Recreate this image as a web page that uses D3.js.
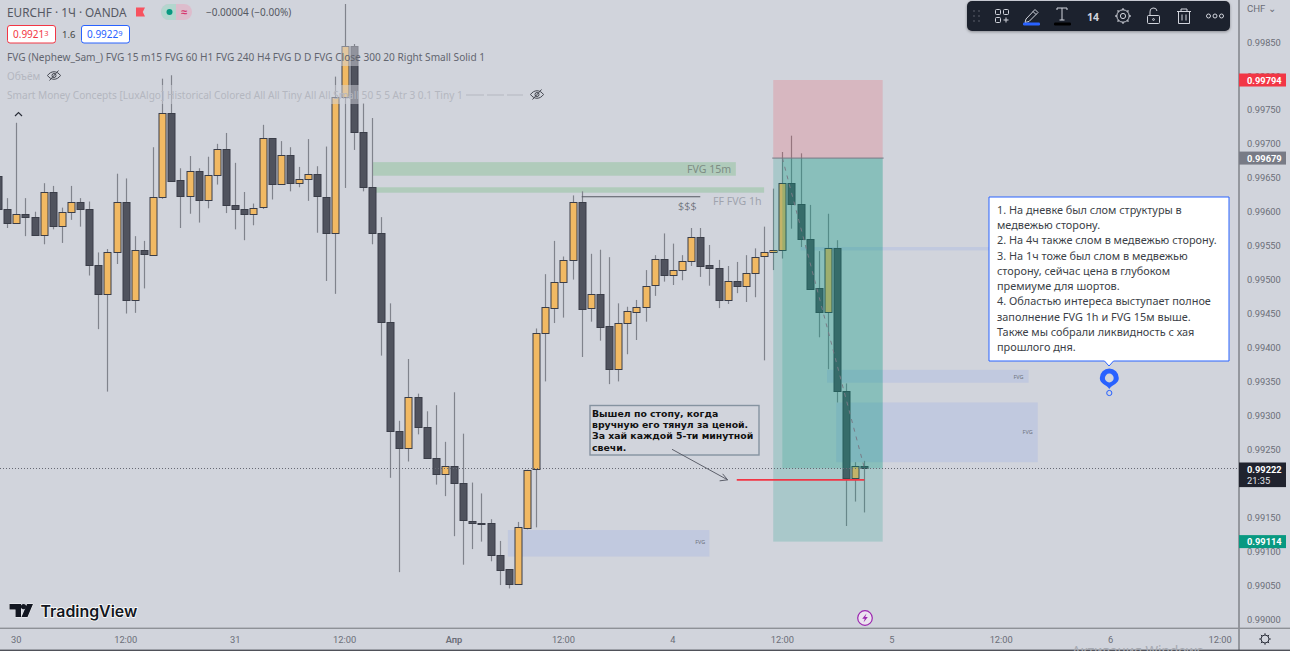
<!DOCTYPE html>
<html>
<head>
<meta charset="utf-8">
<script src="https://cdn.jsdelivr.net/npm/d3@7/dist/d3.min.js"></script>
<style>
  html, body { margin: 0; padding: 0; background: #D1D4DC; overflow: hidden; }
  svg { display: block; font-family: "Noto Sans", sans-serif; }
</style>
</head>
<body>
<svg id="chart" width="1290" height="651"></svg>
<script>
// EURCHF hourly candles, the first bar is two positions left of the "30" tick
const firstBar = -2;
const opens = [.99653,.99604,.99583,.99596,.99592,.99565,.99629,.99579,.99600,.99615,.99604,.99521,.99479,.99541,.99615,.99470,.99543,.99537,.99622,.99746,.99646,.99623,.99660,.99617,.99654,.99692,.99610,.99604,.99597,.99606,.99708,.99640,.99683,.99642,.99648,.99655,.99622,.99569,.99769,.99844,.99718,.99637,.99569,.99438,.99277,.99252,.99327,.99283,.99237,.99213,.99225,.99200,.99145,.99142,.99142,.99095,.99073,.99051,.99135,.99220,.99421,.99459,.99497,.99529,.99615,.99458,.99479,.99431,.99368,.99436,.99453,.99460,.99491,.99530,.99507,.99514,.99527,.99563,.99521,.99517,.99470,.99498,.99491,.99510,.99534,.99540,.99543,.99642,.99611,.99560,.99487,.99451,.99546,.99336,.99208,.99225];
const highs = [.99669,.99620,.99731,.99620,.99600,.99642,.99638,.99606,.99638,.99620,.99615,.99540,.99545,.99656,.99649,.99564,.99557,.99695,.99796,.99801,.99664,.99682,.99664,.99681,.99700,.99716,.99672,.99629,.99612,.99728,.99708,.99704,.99695,.99666,.99707,.99667,.99696,.99799,.99906,.99847,.99760,.99738,.99592,.99465,.99292,.99383,.99332,.99306,.99315,.99261,.99334,.99273,.99201,.99185,.99147,.99115,.99073,.99143,.99220,.99428,.99508,.99557,.99534,.99624,.99630,.99538,.99544,.99533,.99465,.99460,.99470,.99514,.99536,.99568,.99553,.99536,.99576,.99576,.99551,.99529,.99520,.99526,.99536,.99546,.99578,.99634,.99688,.99712,.99686,.99610,.99542,.99597,.99558,.99347,.99231,.99233];
const lows = [.99597,.99576,.99583,.99564,.99565,.99552,.99574,.99554,.99588,.99578,.99506,.99427,.99335,.99523,.99450,.99451,.99487,.99537,.99619,.99644,.99576,.99597,.99584,.99605,.99640,.99598,.99574,.99558,.99580,.99604,.99618,.99640,.99630,.99636,.99616,.99569,.99498,.99479,.99635,.99691,.99630,.99552,.99388,.99208,.99069,.99232,.99272,.99237,.99198,.99181,.99122,.99080,.99103,.99114,.99085,.99050,.99045,.99051,.99132,.99135,.99350,.99436,.99444,.99500,.99386,.99438,.99410,.99346,.99350,.99390,.99411,.99438,.99476,.99497,.99492,.99499,.99520,.99504,.99491,.99458,.99464,.99480,.99467,.99474,.99381,.99514,.99531,.99575,.99548,.99485,.99415,.99368,.99319,.99137,.99173,.99157];
const closes = [.99604,.99583,.99596,.99592,.99565,.99629,.99579,.99600,.99615,.99604,.99521,.99479,.99541,.99615,.99470,.99543,.99537,.99622,.99746,.99646,.99623,.99660,.99617,.99654,.99692,.99610,.99604,.99597,.99606,.99708,.99640,.99683,.99642,.99648,.99655,.99622,.99569,.99769,.99844,.99718,.99637,.99569,.99438,.99277,.99252,.99327,.99283,.99237,.99213,.99225,.99200,.99145,.99142,.99141,.99095,.99073,.99051,.99135,.99220,.99421,.99459,.99497,.99529,.99615,.99458,.99479,.99431,.99368,.99436,.99453,.99460,.99491,.99530,.99507,.99514,.99527,.99563,.99521,.99517,.99470,.99498,.99491,.99510,.99534,.99540,.99543,.99642,.99611,.99560,.99487,.99451,.99546,.99336,.99208,.99225,.99222];

// Price and time axes
const priceTicks = [.9985,.998,.9975,.997,.9965,.996,.9955,.995,.9945,.994,.9935,.993,.9925,.9915,.991,.9905,.99];
const timeTickBars = [0,12,24,36,48,60,72,84,96,108,120,132];
const timeTickLabels = ["30","12:00","31","12:00","Апр","12:00","4","12:00","5","12:00","6","12:00"];

// Fair value gaps: [first bar, last bar, upper price, lower price]
const greenGaps = [[39.1,78.9,.99673,.99653],[39.1,82,.99636,.99628]];
const blueGaps = [[53.9,76,.99131,.99092],[88.9,111,.99367,.99348],[89.9,112,.99319,.99231],[86,108,.99548,.99543]];
const gapLabels = [["FVG",75,.99114],["FVG",109.9,.99357],["FVG",110.9,.99275]];

// Short position drawing
const entryPrice = .99679, stopPrice = .99794, targetPrice = .99114, lastPrice = .99222;
const positionBars = [83, 95];
const positionFillStart = 84;
const stopOutLine = [79, 93, .99205];
const liquidityLine = [62, 75, .99622];
const arrowFrom = [71.9, .99250], arrowTo = [78, .99205];

const calloutLines = [
  "1. На дневке был слом структуры в",
  "медвежью сторону.",
  "2. На 4ч также слом в медвежью сторону.",
  "3. На 1ч тоже был слом в медвежью",
  "сторону, сейчас цена в глубоком",
  "премиуме для шортов.",
  "4. Областью интереса выступает полное",
  "заполнение FVG 1h и FVG 15м выше.",
  "Также мы собрали ликвидность с хая",
  "прошлого дня."
];
const noteLines = [
  "Вышел по стопу, когда",
  "вручную его тянул за ценой.",
  "За хай каждой 5-ти минутной",
  "свечи."
];

const bg = "#D1D4DC";
const axisFont = "Roboto";
const svg = d3.select("#chart");
const x = d3.scaleLinear().domain([0, 132]).range([16.3, 1220.1]);
const y = d3.scaleLinear().domain([.99, .9985]).range([619, 42]);
const candles = opens.map((o, i) => ({ bar: firstBar + i, o, h: highs[i], l: lows[i], c: closes[i] }));

const plot = svg.append("g");
plot.append("rect").attr("width", 1290).attr("height", 651).attr("fill", bg);

function zones(list, fill, opacity) {
  plot.append("g").selectAll("rect").data(list).join("rect")
    .attr("x", d => x(d[0])).attr("width", d => x(d[1]) - x(d[0]))
    .attr("y", d => y(d[2])).attr("height", d => y(d[3]) - y(d[2]))
    .attr("fill", fill).attr("fill-opacity", opacity);
}
zones(greenGaps, "#B0CBBB", 1);
zones(blueGaps, "#2962FF", 0.095);

plot.append("g").selectAll("text").data(gapLabels).join("text")
  .attr("x", d => x(d[1])).attr("y", d => y(d[2]) + 2)
  .attr("font-size", 5.5).attr("fill", "#6f7480").attr("text-anchor", "middle").text(d => d[0]);

// Candles
const cg = plot.append("g");
const px = d => Math.round(x(d));
cg.selectAll("line").data(candles).join("line")
  .attr("x1", d => px(d.bar) + .5).attr("x2", d => px(d.bar) + .5)
  .attr("y1", d => y(d.h)).attr("y2", d => y(d.l))
  .attr("stroke", "#80838C").attr("stroke-width", 1.2);
cg.selectAll("rect").data(candles).join("rect")
  .attr("x", d => px(d.bar) - 3)
  .attr("width", 7)
  .attr("y", d => Math.round(y(Math.max(d.o, d.c))) + .5)
  .attr("height", d => Math.max(1, Math.round(Math.abs(y(d.o) - y(d.c)))))
  .attr("fill", d => d.c >= d.o ? "#F1B963" : "#50535E")
  .attr("stroke", "#3A3D48").attr("stroke-width", 1);

// Position drawing over the candles
const px0 = x(positionBars[0]), px1 = x(positionBars[1]);
const area = (xa, xb, pa, pb, fill, op) => plot.append("rect")
  .attr("x", xa).attr("width", xb - xa).attr("y", y(pa)).attr("height", y(pb) - y(pa))
  .attr("fill", fill).attr("fill-opacity", op);
area(px0, px1, stopPrice, entryPrice, "#F23645", 0.18);
area(px0, px1, entryPrice, targetPrice, "#089981", 0.2);
area(x(positionFillStart), px1, entryPrice, lastPrice, "#089981", 0.2);
plot.append("line").attr("x1", px0 - 1).attr("x2", px1 + 1).attr("y1", y(entryPrice)).attr("y2", y(entryPrice))
  .attr("stroke", "#787B86").attr("stroke-width", 1);
plot.append("line").attr("x1", x(positionFillStart)).attr("y1", y(entryPrice))
  .attr("x2", x(93)).attr("y2", y(lastPrice))
  .attr("stroke", "#787B86").attr("stroke-width", 1).attr("stroke-dasharray", "4 5");

// Price line at the last close
plot.append("line").attr("x1", 0).attr("x2", 1239).attr("y1", Math.round(y(lastPrice)) + .5).attr("y2", Math.round(y(lastPrice)) + .5)
  .attr("stroke", "#666974").attr("stroke-width", 1).attr("stroke-dasharray", "1 2");

// Stop-out and liquidity levels
plot.append("line").attr("x1", x(stopOutLine[0])).attr("x2", x(stopOutLine[1])).attr("y1", y(stopOutLine[2])).attr("y2", y(stopOutLine[2]))
  .attr("stroke", "#F23645").attr("stroke-width", 1.6);
plot.append("line").attr("x1", x(liquidityLine[0])).attr("x2", x(liquidityLine[1])).attr("y1", y(liquidityLine[2])).attr("y2", y(liquidityLine[2]))
  .attr("stroke", "#555862").attr("stroke-width", 1.2);

plot.append("text").attr("x", 687).attr("y", 173).attr("font-size", 10.6).attr("fill", "#7d8c84").text("FVG 15m");
plot.append("text").attr("x", 713).attr("y", 205).attr("font-size", 10.6).attr("fill", "#9fa3ad").text("FF FVG 1h");
plot.append("text").attr("x", 678).attr("y", 210).attr("font-size", 11).attr("font-weight", 300).attr("fill", "#5a5d68").text("$$$");

// Note box with arrow
plot.append("rect").attr("x", 590).attr("y", 405.5).attr("width", 169).attr("height", 49.5)
  .attr("fill", bg).attr("stroke", "#8593A0").attr("stroke-width", 1.4);
plot.append("g").selectAll("text").data(noteLines).join("text")
  .attr("x", 592).attr("y", (d, i) => 416.5 + i * 11.4)
  .attr("font-family", "'DejaVu Sans'").attr("font-weight", 700).attr("font-size", 9.35).attr("fill", "#111").text(d => d);
const ax0 = x(arrowFrom[0]), ay0 = y(arrowFrom[1]), ax1 = x(arrowTo[0]), ay1 = y(arrowTo[1]);
plot.append("line").attr("x1", ax0).attr("y1", ay0).attr("x2", ax1).attr("y2", ay1).attr("stroke", "#5d606b").attr("stroke-width", 1);
plot.append("path").attr("d", `M${ax1 - 5},${ay1 - 6}L${ax1},${ay1}L${ax1 - 8},${ay1 + 1}`)
  .attr("fill", "none").attr("stroke", "#5d606b").attr("stroke-width", 1);

// Callout with pin
plot.append("path")
  .attr("d", "M989,197H1229V361H1113.5L1109,366L1104.5,361H989Z")
  .attr("fill", "#fff").attr("stroke", "#2962FF").attr("stroke-width", 1);
plot.append("g").selectAll("text").data(calloutLines).join("text")
  .attr("x", 997).attr("y", (d, i) => 214 + i * 15.22)
  .attr("font-size", 10.9).attr("fill", "#3c3f48").text(d => d);
plot.append("path").attr("d", "M1109.3,389C1106,384 1099.8,384 1099.8,378A9.5,9.5 0 0 1 1118.8,378C1118.8,384 1112.5,384 1109.3,389Z").attr("fill", "#2962FF");
plot.append("circle").attr("cx", 1109.3).attr("cy", 378).attr("r", 4.4).attr("fill", bg);
plot.append("circle").attr("cx", 1109.3).attr("cy", 393).attr("r", 2.6).attr("fill", bg).attr("stroke", "#2962FF").attr("stroke-width", 1);

// Legend rows
const legend = svg.append("g");
legend.append("rect").attr("x", 0).attr("y", 46).attr("width", 490).attr("height", 20).attr("fill", bg).attr("fill-opacity", .5);
legend.append("rect").attr("x", 0).attr("y", 85).attr("width", 548).attr("height", 19).attr("fill", bg).attr("fill-opacity", .5);
legend.append("text").attr("x", 7).attr("y", 16.5).attr("font-size", 11.8).attr("fill", "#555862").text("EURCHF · 1Ч · OANDA");
legend.append("path").attr("d", "M136,7.5H145L142.8,12L145,16.5H136Z").attr("fill", "#F7525F");
legend.append("rect").attr("x", 161).attr("y", 4).attr("width", 31).attr("height", 16).attr("rx", 8).attr("fill", "#DDBCCC");
legend.append("path").attr("d", "M176,4H169A8,8 0 0 0 169,20H176Z").attr("fill", "#B3D6CE");
legend.append("circle").attr("cx", 169.5).attr("cy", 12).attr("r", 3).attr("fill", "#089981");
legend.append("text").attr("x", 184).attr("y", 15.5).attr("font-size", 11).attr("font-weight", 700).attr("fill", "#D6336C").attr("text-anchor", "middle").text("≈");
legend.append("text").attr("x", 206).attr("y", 16).attr("font-size", 10).attr("fill", "#555862").text("−0.00004 (−0.00%)");

const quoteBox = (bx, color, main, sup) => {
  legend.append("rect").attr("x", bx + .5).attr("y", 25.5).attr("width", 48).attr("height", 17.5).attr("rx", 2.5)
    .attr("fill", "#fff").attr("stroke", color).attr("stroke-width", 1);
  const t = legend.append("text").attr("x", bx + 6).attr("y", 38).attr("font-size", 10).attr("fill", color);
  t.append("tspan").text(main);
  t.append("tspan").attr("font-size", 7.5).attr("dy", -2).text(sup);
};
quoteBox(7, "#F23645", "0.9921", "3");
quoteBox(81, "#2962FF", "0.9922", "9");
legend.append("text").attr("x", 62).attr("y", 37.5).attr("font-size", 9.5).attr("fill", "#444").text("1.6");

legend.append("text").attr("x", 7).attr("y", 60.5).attr("font-size", 10.1).attr("fill", "#62656f")
  .text("FVG (Nephew_Sam_) FVG 15 m15 FVG 60 H1 FVG 240 H4 FVG D D FVG Close 300 20 Right Small Solid 1");
legend.append("text").attr("x", 7).attr("y", 79.5).attr("font-size", 10.1).attr("fill", "#B4B7C0").text("Объём");
legend.append("text").attr("x", 7).attr("y", 98.5).attr("font-size", 10.1).attr("fill", "#B4B7C0")
  .text("Smart Money Concepts [LuxAlgo] Historical Colored All All Tiny All All Small 50 5 5 Atr 3 0.1 Tiny 1");
[[466, 484], [487, 504], [507, 523]].forEach(d => legend.append("line")
  .attr("x1", d[0]).attr("x2", d[1]).attr("y1", 95).attr("y2", 95).attr("stroke", "#B4B7C0").attr("stroke-width", 1));

const eye = (ex, ey) => {
  const g = legend.append("g").attr("transform", `translate(${ex},${ey})`).attr("fill", "none").attr("stroke", "#43464f").attr("stroke-width", 1);
  g.append("path").attr("d", "M-6.5,0C-3,-5 3,-5 6.5,0C3,5 -3,5 -6.5,0Z");
  g.append("circle").attr("r", 2);
  g.append("line").attr("x1", -4.5).attr("y1", 5).attr("x2", 4.5).attr("y2", -5);
};
eye(54, 75.5);
eye(537, 94.5);
legend.append("path").attr("d", "M15,116L18.5,112.5L22,116").attr("fill", "none").attr("stroke", "#2a2e39").attr("stroke-width", 1.2);

// Price scale
const scale = svg.append("g").attr("font-family", axisFont);
scale.append("rect").attr("x", 1239).attr("y", 0).attr("width", 51).attr("height", 651).attr("fill", bg);
scale.append("rect").attr("x", 0).attr("y", 628).attr("width", 1290).attr("height", 23).attr("fill", bg);
scale.append("text").attr("x", 1247).attr("y", 12).attr("font-size", 9.6).attr("fill", "#6b6e78").text("CHF ⌄");
scale.append("g").selectAll("text").data(priceTicks).join("text")
  .attr("x", 1247).attr("y", d => y(d) + 3.6).attr("font-size", 9.3).attr("fill", "#6b6e78").text(d => d.toFixed(5));
scale.append("rect").attr("x", 1238.2).attr("y", 0).attr("width", 1.6).attr("height", 651).attr("fill", "#85888F");
scale.append("rect").attr("x", 0).attr("y", 627.6).attr("width", 1290).attr("height", 1.4).attr("fill", "#8E9197");
scale.append("rect").attr("x", 0).attr("y", 649.6).attr("width", 1290).attr("height", 1.4).attr("fill", "#4F5159");

const tag = (price, fill, extra) => {
  const cy = y(price);
  const h = extra ? 24.6 : 13;
  const top = extra ? cy - 5.8 : cy - 6.5;
  scale.append("rect").attr("x", 1239).attr("y", top).attr("width", 47).attr("height", h).attr("fill", fill);
  scale.append("text").attr("x", 1247).attr("y", top + 10).attr("font-size", 9.3).attr("font-weight", 700).attr("fill", "#fff").text(price.toFixed(5));
  if (extra) scale.append("text").attr("x", 1247).attr("y", top + 21.5).attr("font-size", 9.3).attr("fill", "#E4E6EB").text(extra);
};
tag(stopPrice, "#F23645");
tag(entryPrice, "#787B86");
tag(lastPrice, "#20232E", "21:35");
tag(targetPrice, "#089981");

// Time axis
scale.append("g").selectAll("text").data(timeTickBars).join("text")
  .attr("x", d => x(d)).attr("y", 642.5).attr("text-anchor", "middle").attr("font-size", 9.3)
  .attr("font-weight", (d, i) => timeTickLabels[i] === "Апр" ? 600 : 400)
  .attr("fill", "#6b6e78").text((d, i) => timeTickLabels[i]);
const gearTicks = d3.range(8).map(i => i * Math.PI / 4);
scale.append("circle").attr("cx", 1265).attr("cy", 639).attr("r", 4).attr("fill", "none").attr("stroke", "#2a2e39").attr("stroke-width", 1);
scale.append("g").selectAll("line").data(gearTicks).join("line")
  .attr("x1", d => 1265 + 4 * Math.cos(d)).attr("y1", d => 639 + 4 * Math.sin(d))
  .attr("x2", d => 1265 + 5.8 * Math.cos(d)).attr("y2", d => 639 + 5.8 * Math.sin(d))
  .attr("stroke", "#2a2e39").attr("stroke-width", 1);
scale.append("text").attr("x", 1072).attr("y", 656).attr("font-family", "Noto Sans").attr("font-size", 13.5).attr("fill", "#A7AAB2").text("Активация Windows");

// Alert marker
const mark = svg.append("g").attr("transform", "translate(865,618)");
mark.append("circle").attr("r", 7.3).attr("fill", "#ECE3F0").attr("stroke", "#9C27B0").attr("stroke-width", 1.2);
mark.append("path").attr("d", "M1.5,-4.5L-2.8,0.8H-0.2L-1.5,4.5L2.8,-0.9H0.2Z").attr("fill", "#9C27B0");

// Watermark
const wm = svg.append("g");
wm.append("text").attr("x", 40.5).attr("y", 616.5).attr("font-family", "Inter").attr("font-weight", 600).attr("font-size", 15.9)
  .attr("fill", "#131722").attr("stroke", "#fff").attr("stroke-width", 1.5).attr("paint-order", "stroke").text("TradingView");
wm.append("path").attr("d", "M9.5,604H21V617H15.5V609.5H9.5Z M27,604H33L27.5,617H21.5Z").attr("fill", "#131722").attr("stroke", "#fff").attr("stroke-width", .8).attr("paint-order", "stroke");
wm.append("circle").attr("cx", 23.5).attr("cy", 606.6).attr("r", 2.6).attr("fill", "#131722");

// Drawing toolbar
const tb = svg.append("g");
const defs = svg.append("defs");
const sh = defs.append("filter").attr("id", "tbShadow").attr("x", "-5%").attr("y", "-20%").attr("width", "110%").attr("height", "150%");
sh.append("feDropShadow").attr("dx", 0).attr("dy", 1).attr("stdDeviation", 1.5).attr("flood-color", "#000").attr("flood-opacity", .35);
tb.append("rect").attr("x", 967).attr("y", 1).attr("width", 263).attr("height", 30).attr("rx", 5).attr("fill", "#1E222D").attr("filter", "url(#tbShadow)");
const ic = tb.append("g").attr("fill", "none").attr("stroke", "#D1D4DC").attr("stroke-width", 1);
const gripRows = [11, 16, 21];
gripRows.forEach(gy => [974, 979].forEach(gx => tb.append("circle").attr("cx", gx).attr("cy", gy).attr("r", .9).attr("fill", "#4A4E5A")));
ic.append("rect").attr("x", 995.5).attr("y", 9.5).attr("width", 5).attr("height", 5).attr("rx", 1);
ic.append("rect").attr("x", 1003.5).attr("y", 9.5).attr("width", 5).attr("height", 5).attr("rx", 1);
ic.append("rect").attr("x", 995.5).attr("y", 17.5).attr("width", 5).attr("height", 5).attr("rx", 1);
ic.append("path").attr("d", "M1006,17.5V22.5M1003.5,20H1008.5");
ic.append("path").attr("d", "M1026,19L1035,9.5L1038,12.5L1029,21.5L1025,22.5Z M1033,11.5L1036,14.5");
tb.append("rect").attr("x", 1023).attr("y", 22.5).attr("width", 17).attr("height", 3).attr("rx", 1.2).attr("fill", "#2962FF");
ic.append("path").attr("d", "M1057,10V8H1067V10M1062,8V20M1059.5,20H1064.5");
tb.append("rect").attr("x", 1054).attr("y", 22.5).attr("width", 17).attr("height", 3).attr("rx", 1.2).attr("fill", "#000");
tb.append("text").attr("x", 1093).attr("y", 20.5).attr("text-anchor", "middle").attr("font-size", 10.5).attr("font-weight", 700).attr("fill", "#D1D4DC").text("14");
ic.append("circle").attr("cx", 1123).attr("cy", 16).attr("r", 2.6);
ic.append("circle").attr("cx", 1123).attr("cy", 16).attr("r", 6.2);
ic.selectAll("line.g").data(gearTicks).join("line").attr("class", "g")
  .attr("x1", d => 1123 + 6.2 * Math.cos(d)).attr("y1", d => 16 + 6.2 * Math.sin(d))
  .attr("x2", d => 1123 + 7.8 * Math.cos(d)).attr("y2", d => 16 + 7.8 * Math.sin(d)).attr("stroke-width", 1.4);
ic.append("rect").attr("x", 1147.5).attr("y", 15.5).attr("width", 12).attr("height", 8).attr("rx", 1);
ic.append("path").attr("d", "M1150,15.5V12A3.5,3.5 0 0 1 1157,11");
ic.append("circle").attr("cx", 1153.5).attr("cy", 19.5).attr("r", .9);
ic.append("path").attr("d", "M1177,11.5H1191M1181,11V9H1187V11M1178.5,11.5V23.5H1189.5V11.5M1182,14.5V20.5M1186,14.5V20.5");
[1208.5, 1215, 1221.5].forEach(dx => ic.append("circle").attr("cx", dx).attr("cy", 16).attr("r", 2));
</script>
</body>
</html>
